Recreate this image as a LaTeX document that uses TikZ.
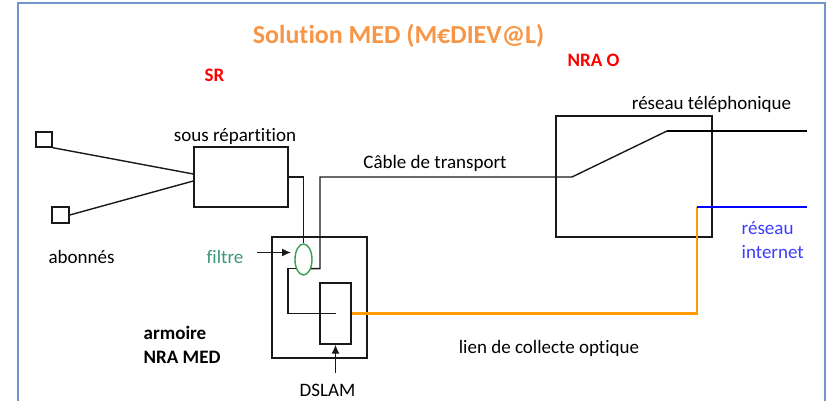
\documentclass[tikz,border=0pt]{standalone}
\usepackage{fontspec}
\setmainfont{Carlito}[Ligatures=CommonOff]
\usetikzlibrary{positioning,calc,arrows.meta,shapes.geometric}
\definecolor{titleorange}{RGB}{247,150,70}
\definecolor{frameblue}{RGB}{112,150,204}
\definecolor{fibreorange}{RGB}{255,155,0}
\definecolor{filtregreen}{RGB}{55,160,75}
\definecolor{filtretext}{RGB}{60,150,120}
\definecolor{netblue}{RGB}{60,60,255}
\definecolor{linegray}{RGB}{25,25,25}
\tikzset{
  box/.style={draw=linegray,rectangle,inner sep=0pt,line width=1.4pt},
  lbl/.style={inner sep=0pt,font=\fontsize{19}{22}\selectfont},
  redlbl/.style={inner sep=0pt,text=red,font=\fontsize{19}{22}\bfseries\selectfont},
  fibre/.style={fibreorange,line width=2.6pt},
  web/.style={blue,line width=2.6pt},
  pointer/.style={-{Latex[length=9pt,width=8pt]},line width=1.4pt}
}
\begin{document}
\begin{tikzpicture}[x=1pt,y=-1pt,line width=1.4pt,draw=linegray]
  \useasboundingbox (0,0) rectangle (827,401);
  \draw[frameblue,line width=2pt] (18,401) |- (825,3) -- (825,401);

  % titres
  \node[inner sep=0pt,text=titleorange,font=\fontsize{26}{30}\bfseries\selectfont] (titre) at (398.5,36) {Solution MED (M€DIEV@L)};
  \node[redlbl] (srlbl) at (214.5,75) {SR};
  \node[redlbl] (nralbl) at (593.5,60) {NRA O};

  % abonnes et sous repartition
  \node[box,minimum width=16pt,minimum height=15pt] (ab1) at (44,139.5) {};
  \node[box,minimum width=17pt,minimum height=16pt] (ab2) at (60.5,215) {};
  \node[box,minimum width=94pt,minimum height=60pt] (sr) at (241,177) {};
  \node[lbl] (srtxt) at (235,136) {sous répartition};
  \node[lbl] (abtxt) at (81.5,257) {abonnés};
  \draw (ab1.south east) -- ([yshift=3pt]sr.west);
  \draw (ab2.east) -- ([yshift=-4pt]sr.west);

  % NRA O
  \node[box,minimum width=156pt,minimum height=121pt] (nra) at (634,176.5) {};
  \node[lbl] (teltxt) at (711.5,104) {réseau téléphonique};
  \node[lbl,anchor=west,text=netblue] (nettxt1) at (741,228) {réseau};
  \node[lbl,anchor=west,text=netblue] (nettxt2) at (741,252) {internet};

  % armoire NRA MED
  \node[box,minimum width=95pt,minimum height=121pt] (arm) at (319.5,297.5) {};
  \node[box,minimum width=31pt,minimum height=61pt] (dslam) at (335.5,313.5) {};
  \node[ellipse,draw=filtregreen,line width=1.4pt,inner sep=0pt,minimum width=17pt,minimum height=31pt] (filtre) at (303.5,259.5) {};
  \node[lbl,text=filtretext] (filtxt) at (225,257) {filtre};
  \node[lbl,font=\fontsize{19}{22}\bfseries\selectfont,anchor=west] (armtxt) at (143,333) {armoire};
  \node[lbl,font=\fontsize{19}{22}\bfseries\selectfont,anchor=west] (medtxt) at (143,357) {NRA MED};
  \node[lbl] (dslamtxt) at (327.5,390) {DSLAM};
  \node[lbl] (cabtxt) at (435,163) {Câble de transport};
  \node[lbl] (optxt) at (549,348) {lien de collecte optique};

  % liaisons
  \coordinate (cab) at (320,177);
  \coordinate (sw) at (572,177);
  \coordinate (tel) at (667,131);
  \coordinate (telend) at (807,131);
  \coordinate (boucle) at (288,313.5);
  \coordinate (inet) at (697,207);
  \coordinate (inetend) at (807,207);
  \coordinate (fin) at (257,252.5);
  \coordinate (fout) at (291,252.5);
  \coordinate (din) at (335.5,373);

  \draw (sr.east) -| (filtre.north);
  \draw (filtre.-50) -| (cab) -- (sw) -- (tel);
  \draw[line width=2.8pt,black] (tel) -- (telend);
  \draw (filtre.-130) -| (boucle) -- (dslam.center);
  \draw[fibre] (dslam.east) -| (inet);
  \draw[web] (inet) -- (inetend);
  \draw[pointer] (fin) -- (fout);
  \draw[pointer] (din) -- (dslam.south);
\end{tikzpicture}
\end{document}
